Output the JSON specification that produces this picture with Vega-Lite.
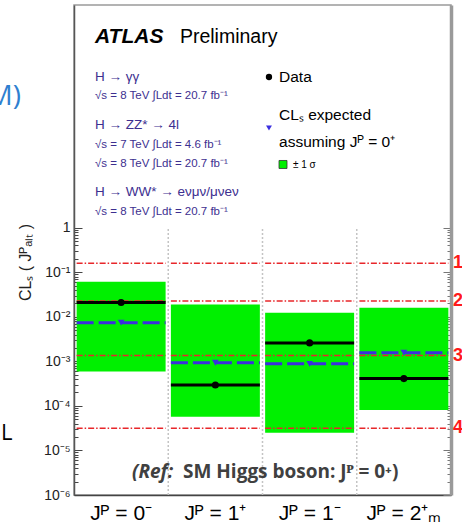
{
  "$schema": "https://vega.github.io/schema/vega-lite/v6.json",
  "width": 377,
  "height": 490,
  "autosize": {"type": "none"},
  "padding": {"left": 74, "top": 5, "right": 11, "bottom": 32},
  "background": "white",
  "config": {"view": {"stroke": "#9a9a9a", "strokeWidth": 1.5}, "font": "Liberation Sans"},
  "datasets": {
    "main": [
      {"jp": "Jᴾ = 0⁻", "obs": 0.021, "exp": 0.0074, "lo": 0.00059, "hi": 0.061},
      {"jp": "Jᴾ = 1⁺", "obs": 0.000295, "exp": 0.00093, "lo": 0.000057, "hi": 0.019},
      {"jp": "Jᴾ = 1⁻", "obs": 0.0026, "exp": 0.00088, "lo": 0.000025, "hi": 0.0124},
      {"jp": "Jᴾ = 2⁺ₘ", "obs": 0.00041, "exp": 0.00157, "lo": 0.000081, "hi": 0.016}
    ],
    "sigma": [
      {"n": "1", "p": 0.1587, "cats": ["Jᴾ = 0⁻", "Jᴾ = 1⁺", "Jᴾ = 1⁻", "Jᴾ = 2⁺ₘ"]},
      {"n": "2", "p": 0.02275, "cats": ["Jᴾ = 0⁻", "Jᴾ = 1⁺", "Jᴾ = 1⁻", "Jᴾ = 2⁺ₘ"]},
      {"n": "3", "p": 0.00135, "cats": ["Jᴾ = 0⁻", "Jᴾ = 1⁺", "Jᴾ = 1⁻", "Jᴾ = 2⁺ₘ"]},
      {"n": "4", "p": 0.0000317, "cats": ["Jᴾ = 0⁻", "Jᴾ = 1⁺", "Jᴾ = 1⁻", "Jᴾ = 2⁺ₘ"]}
    ],
    "notes": [
      {"kind": "atlas", "t": "ATLAS", "u": 5.57, "v": 92.24},
      {"kind": "prelim", "t": "Preliminary", "u": 28.1, "v": 92.24},
      {"kind": "chan", "t": "H → γγ", "u": 5.57, "v": 84.49},
      {"kind": "lumi", "t": "√s = 8 TeV ∫Ldt = 20.7 fb⁻¹", "u": 5.57, "v": 80.82},
      {"kind": "chan", "t": "H → ZZ* → 4l", "u": 5.57, "v": 74.69},
      {"kind": "lumi", "t": "√s = 7 TeV ∫Ldt = 4.6 fb⁻¹", "u": 5.57, "v": 70.82},
      {"kind": "lumi", "t": "√s = 8 TeV ∫Ldt = 20.7 fb⁻¹", "u": 5.57, "v": 66.94},
      {"kind": "chan", "t": "H → WW* → eνμν/μνeν", "u": 5.57, "v": 61.02},
      {"kind": "lumi", "t": "√s = 8 TeV ∫Ldt = 20.7 fb⁻¹", "u": 5.57, "v": 57.14},
      {"kind": "leg", "t": "Data", "u": 54.38, "v": 84.29},
      {"kind": "leg", "t": "CLₛ expected", "u": 54.38, "v": 76.53},
      {"kind": "leg", "t": "assuming Jᴾ = 0⁺", "u": 54.38, "v": 71.02},
      {"kind": "small", "t": "± 1 σ", "u": 58.09, "v": 66.73},
      {"kind": "dot", "u": 51.72, "v": 85.31},
      {"kind": "tri", "u": 51.72, "v": 74.9},
      {"kind": "box", "u": 55.44, "v": 67.45},
      {"kind": "refi", "t": "(Ref:", "u": 15.38, "v": 3.47},
      {"kind": "ref", "t": "SM Higgs boson:  Jᴾ = 0⁺)", "u": 28.91, "v": 3.47},
      {"kind": "slideblue", "t": "M)", "u": -14.06, "v": 79.59},
      {"kind": "slideblack", "t": "L", "u": -19.36, "v": 11.22}
    ]
  },
  "layer": [
    {
      "data": {"name": "main"},
      "layer": [
        {
          "mark": {"type": "bar", "width": {"band": 0.944}, "color": "#00f000"},
          "encoding": {
            "x": {
              "field": "jp", "type": "nominal",
              "scale": {"domain": ["Jᴾ = 0⁻", "Jᴾ = 1⁺", "Jᴾ = 1⁻", "Jᴾ = 2⁺ₘ"], "paddingInner": 0, "paddingOuter": 0},
              "axis": {"orient": "bottom", "title": null, "ticks": false, "labelAngle": 0, "labelFontSize": 21, "labelColor": "#000", "labelPadding": 7, "labelBaseline": "top", "domainColor": "#444", "domainWidth": 1.5, "grid": false}
            },
            "y": {
              "field": "hi", "type": "quantitative",
              "scale": {"type": "log", "domain": [0.000001, 100000], "nice": false},
              "axis": {
                "orient": "left",
                "values": [0.000001, 0.00001, 0.0001, 0.001, 0.01, 0.1, 1, 0.000002, 0.000003, 0.000004, 0.000005, 0.000006, 0.000007, 0.000008, 0.000009, 0.00002, 0.00003, 0.00004, 0.00005, 0.00006, 0.00007, 0.00008, 0.00009, 0.0002, 0.0003, 0.0004, 0.0005, 0.0006, 0.0007, 0.0008, 0.0009, 0.002, 0.003, 0.004, 0.005, 0.006, 0.007, 0.008, 0.009, 0.02, 0.03, 0.04, 0.05, 0.06, 0.07, 0.08, 0.09, 0.2, 0.3, 0.4, 0.5, 0.6, 0.7, 0.8, 0.9],
                "labelExpr": "datum.value >= 0.999 ? '1' : (abs(log(datum.value)/LN10 - round(log(datum.value)/LN10)) < 0.001 ? '10⁻' + ['⁰','¹','²','³','⁴','⁵','⁶'][-round(log(datum.value)/LN10)] : '')",
                "tickSize": {"condition": {"test": "abs(log(datum.value)/LN10 - round(log(datum.value)/LN10)) < 0.001", "value": -8}, "value": -4},
                "tickColor": "#444",
                "labelPadding": 12,
                "labelFontSize": 14,
                "labelColor": "#222",
                "labelOverlap": false,
                "labelFlush": false,
                "domainColor": "#555",
                "domainWidth": 1.5,
                "grid": false,
                "title": "CLₛ ( Jᴾₐₗₜ )",
                "titleFontSize": 16,
                "titleFontWeight": "normal",
                "titleColor": "#222",
                "titleAngle": -90,
                "titleX": -49,
                "titleY": 257,
                "titleAlign": "center",
                "titleBaseline": "middle"
              }
            },
            "y2": {"field": "lo"}
          }
        },
        {
          "transform": [{"filter": "datum.jp != 'Jᴾ = 0⁻'"}],
          "mark": {"type": "rule", "color": "#c4c4c4", "strokeDash": [2, 2], "strokeWidth": 1.5},
          "encoding": {
            "x": {"field": "jp", "type": "nominal", "bandPosition": 0},
            "y": {"datum": 0.000001, "type": "quantitative", "axis": null},
            "y2": {"datum": 1}
          }
        },
        {
          "data": {"name": "sigma"},
          "transform": [{"flatten": ["cats"], "as": ["jp"]}],
          "mark": {"type": "rule", "color": "#e8262a", "strokeDash": [6, 2, 1.5, 2], "strokeWidth": 1.5},
          "encoding": {
            "x": {"field": "jp", "type": "nominal", "bandPosition": 0.028},
            "x2": {"field": "jp", "bandPosition": 0.972},
            "y": {"field": "p", "type": "quantitative", "axis": null}
          }
        },
        {
          "data": {"name": "sigma"},
          "transform": [{"flatten": ["cats"], "as": ["jp"]}, {"filter": "datum.jp == 'Jᴾ = 2⁺ₘ'"}],
          "mark": {"type": "text", "align": "left", "baseline": "middle", "dx": 2, "fontSize": 18, "fontWeight": "bold", "color": "#ff1a1a"},
          "encoding": {
            "x": {"field": "jp", "type": "nominal", "bandPosition": 1},
            "y": {"field": "p", "type": "quantitative", "axis": null},
            "text": {"field": "n"}
          }
        },
        {
          "mark": {"type": "rule", "color": "#3b2fe0", "strokeDash": [17, 5], "strokeWidth": 3},
          "encoding": {
            "x": {"field": "jp", "type": "nominal", "bandPosition": 0.028},
            "x2": {"field": "jp", "bandPosition": 0.972},
            "y": {"field": "exp", "type": "quantitative", "axis": null}
          }
        },
        {
          "mark": {"type": "rule", "color": "#000", "strokeWidth": 3},
          "encoding": {
            "x": {"field": "jp", "type": "nominal", "bandPosition": 0.028},
            "x2": {"field": "jp", "bandPosition": 0.972},
            "y": {"field": "obs", "type": "quantitative", "axis": null}
          }
        },
        {
          "mark": {"type": "point", "shape": "triangle-down", "filled": true, "size": 45, "color": "#3b2fe0", "opacity": 1},
          "encoding": {
            "x": {"field": "jp", "type": "nominal"},
            "y": {
              "field": "exp", "type": "quantitative",
              "axis": {
                "orient": "right",
                "values": [0.000001, 0.00001, 0.0001, 0.001, 0.01, 0.1, 1, 0.000002, 0.000003, 0.000004, 0.000005, 0.000006, 0.000007, 0.000008, 0.000009, 0.00002, 0.00003, 0.00004, 0.00005, 0.00006, 0.00007, 0.00008, 0.00009, 0.0002, 0.0003, 0.0004, 0.0005, 0.0006, 0.0007, 0.0008, 0.0009, 0.002, 0.003, 0.004, 0.005, 0.006, 0.007, 0.008, 0.009, 0.02, 0.03, 0.04, 0.05, 0.06, 0.07, 0.08, 0.09, 0.2, 0.3, 0.4, 0.5, 0.6, 0.7, 0.8, 0.9],
                "labels": false,
                "title": null,
                "tickSize": {"condition": {"test": "abs(log(datum.value)/LN10 - round(log(datum.value)/LN10)) < 0.001", "value": -8}, "value": -4},
                "tickColor": "#777",
                "domainColor": "#9a9a9a",
                "domainWidth": 3.5,
                "grid": false
              }
            }
          }
        },
        {
          "mark": {"type": "point", "shape": "circle", "filled": true, "size": 50, "color": "#000", "opacity": 1},
          "encoding": {
            "x": {"field": "jp", "type": "nominal"},
            "y": {"field": "obs", "type": "quantitative", "axis": null}
          }
        }
      ],
      "resolve": {"axis": {"y": "independent"}}
    },
    {
      "data": {"name": "notes"},
      "encoding": {
        "x": {"field": "u", "type": "quantitative", "scale": {"domain": [0, 100], "nice": false, "zero": false}, "axis": null},
        "y": {"field": "v", "type": "quantitative", "scale": {"domain": [0, 100], "nice": false, "zero": false}, "axis": null}
      },
      "layer": [
        {"transform": [{"filter": "datum.kind == 'atlas'"}], "mark": {"type": "text", "align": "left", "baseline": "alphabetic", "fontSize": 21, "fontWeight": "bold", "fontStyle": "italic", "color": "#000"}, "encoding": {"text": {"field": "t"}}},
        {"transform": [{"filter": "datum.kind == 'prelim'"}], "mark": {"type": "text", "align": "left", "baseline": "alphabetic", "fontSize": 19.5, "color": "#000"}, "encoding": {"text": {"field": "t"}}},
        {"transform": [{"filter": "datum.kind == 'chan'"}], "mark": {"type": "text", "align": "left", "baseline": "alphabetic", "fontSize": 13.5, "color": "#3d2f90"}, "encoding": {"text": {"field": "t"}}},
        {"transform": [{"filter": "datum.kind == 'lumi'"}], "mark": {"type": "text", "align": "left", "baseline": "alphabetic", "fontSize": 11.5, "color": "#3d2f90"}, "encoding": {"text": {"field": "t"}}},
        {"transform": [{"filter": "datum.kind == 'leg'"}], "mark": {"type": "text", "align": "left", "baseline": "alphabetic", "fontSize": 15.5, "color": "#000"}, "encoding": {"text": {"field": "t"}}},
        {"transform": [{"filter": "datum.kind == 'small'"}], "mark": {"type": "text", "align": "left", "baseline": "alphabetic", "fontSize": 10, "color": "#000"}, "encoding": {"text": {"field": "t"}}},
        {"transform": [{"filter": "datum.kind == 'dot'"}], "mark": {"type": "point", "shape": "circle", "filled": true, "size": 40, "color": "#000", "opacity": 1}},
        {"transform": [{"filter": "datum.kind == 'tri'"}], "mark": {"type": "point", "shape": "triangle-down", "filled": true, "size": 35, "color": "#3b2fe0", "opacity": 1}},
        {"transform": [{"filter": "datum.kind == 'box'"}], "mark": {"type": "point", "shape": "square", "filled": true, "size": 64, "color": "#00f000", "stroke": "#333", "strokeWidth": 0.8, "opacity": 1}},
        {"transform": [{"filter": "datum.kind == 'refi'"}], "mark": {"type": "text", "align": "left", "baseline": "alphabetic", "font": "Open Sans", "fontSize": 19, "fontWeight": "bold", "fontStyle": "italic", "color": "#404040"}, "encoding": {"text": {"field": "t"}}},
        {"transform": [{"filter": "datum.kind == 'ref'"}], "mark": {"type": "text", "align": "left", "baseline": "alphabetic", "font": "Open Sans", "fontSize": 19, "fontWeight": "bold", "color": "#404040"}, "encoding": {"text": {"field": "t"}}},
        {"transform": [{"filter": "datum.kind == 'slideblue'"}], "mark": {"type": "text", "align": "right", "baseline": "alphabetic", "font": "Open Sans", "fontSize": 28, "color": "#2f7fd0"}, "encoding": {"text": {"field": "t"}}},
        {"transform": [{"filter": "datum.kind == 'slideblack'"}], "mark": {"type": "text", "align": "left", "baseline": "alphabetic", "font": "Open Sans", "fontSize": 22, "color": "#000"}, "encoding": {"text": {"field": "t"}}}
      ]
    }
  ],
  "resolve": {"scale": {"x": "independent", "y": "independent"}}
}
